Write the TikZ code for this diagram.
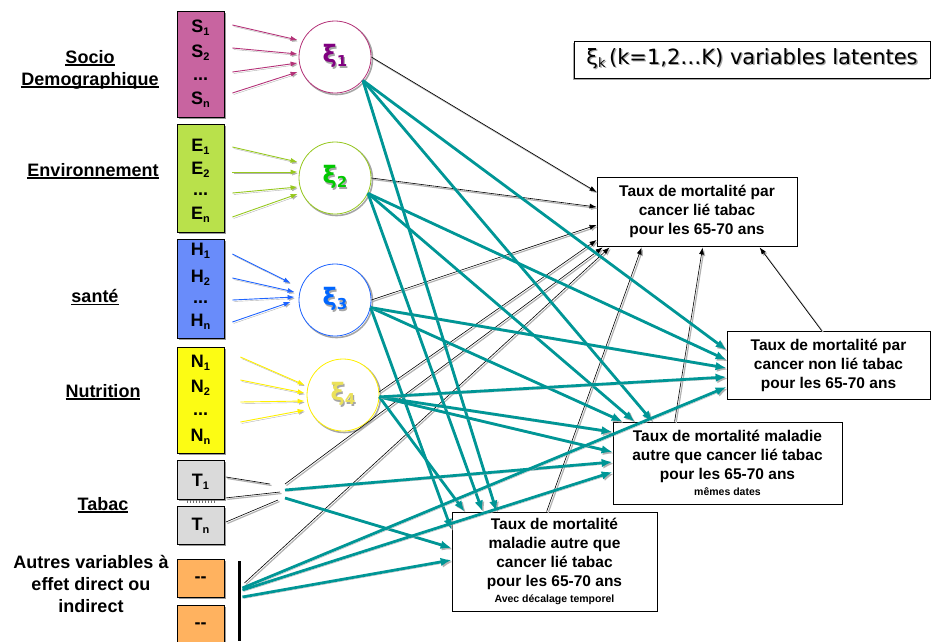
\documentclass[tikz,border=0pt]{standalone}
\usepackage{fontspec}
\setmainfont{Liberation Sans}
\newfontfamily\dejavu{DejaVu Sans}
\usetikzlibrary{arrows.meta,calc}
\definecolor{tealc}{RGB}{0,150,150}
\definecolor{scol}{RGB}{200,100,160}
\definecolor{ecol}{RGB}{185,225,75}
\definecolor{hcol}{RGB}{105,140,250}
\definecolor{ncol}{RGB}{252,252,20}
\definecolor{tcol}{RGB}{218,218,218}
\definecolor{ocol}{RGB}{255,178,95}
\definecolor{sline}{RGB}{180,50,120}
\definecolor{eline}{RGB}{150,200,30}
\definecolor{hline}{RGB}{30,100,255}
\definecolor{nline}{RGB}{255,240,0}
\definecolor{xiA}{RGB}{128,0,128}
\definecolor{xiB}{RGB}{0,200,0}
\definecolor{xiC}{RGB}{0,102,255}
\definecolor{xiD}{RGB}{235,225,90}
\newcommand\sub[1]{\raisebox{-3pt}{\fontsize{11}{11}\selectfont #1}}
\newcommand\bsub[1]{\raisebox{-4pt}{\fontsize{15}{15}\selectfont #1}}
\newcommand\shtext[2]{\makebox[0pt][l]{\hspace{1.3pt}\raisebox{-1.3pt}{\textcolor{black!35}{#2}}}\textcolor{#1}{#2}}
\newcommand\undl[1]{\setbox0\hbox{#1}\rlap{\rule[-2.6pt]{\wd0}{1.4pt}}\box0}
\begin{document}
\begin{tikzpicture}[x=1pt,y=-1pt,
  varbox/.style={draw=black, line width=0.8pt, minimum width=47, inner sep=0, preaction={fill=black!40, transform canvas={shift={(2pt,-2pt)}}}},
  vtxt/.style={font=\fontsize{18}{18}\selectfont\bfseries, inner sep=0},
  grp/.style={font=\fontsize{18}{22}\selectfont\bfseries, align=center, inner sep=0},
  latent/.style={circle, draw=#1, fill=white, minimum size=72, inner sep=0, line width=0.8pt, preaction={draw=black!35, line width=1.6pt, transform canvas={shift={(1.5pt,-1.5pt)}}}, font=\dejavu\bfseries\fontsize{24}{24}\selectfont},
  target/.style={draw=black, line width=0.8pt, fill=white, align=center, inner sep=0, font=\fontsize{15.5}{19}\selectfont\bfseries},
  inarr/.style={line width=0.9pt, -{Latex[length=7pt,width=5pt]}, preaction={draw=black!30, -{Latex[length=7pt,width=5pt]}, transform canvas={shift={(1.2pt,-1.5pt)}}}},
  blkarr/.style={line width=0.6pt, draw=black, -{Latex[length=7pt,width=5pt]}, preaction={draw=black!30, line width=1.2pt, -{Latex[length=7pt,width=5pt]}, transform canvas={shift={(1.5pt,-1.5pt)}}}},
  blkline/.style={line width=0.6pt, draw=black, preaction={draw=black!30, line width=1.2pt, transform canvas={shift={(1.5pt,-1.5pt)}}}},
  tealarr/.style={draw=tealc, line width=2.8pt, -{Latex[length=11pt,width=8.5pt]}, preaction={draw=black!30, -{Latex[length=11pt,width=8.5pt]}, transform canvas={shift={(1.5pt,-1.5pt)}}}}
]
\useasboundingbox (0,0) rectangle (932,641);

% group labels
\node[grp] (lsocio) at (90,69.5) {\undl{Socio}\\\undl{Demographique}};
\node[grp] (lenv) at (93,171) {\undl{Environnement}};
\node[grp] (lsante) at (95,297) {\undl{santé}};
\node[grp] (lnut) at (103,392) {\undl{Nutrition}};
\node[grp] (ltab) at (103,505) {\undl{Tabac}};
\node[grp] (lautre) at (91,584) {Autres variables à\\effet direct ou\\indirect};

% variable boxes
\node[varbox, fill=scol, minimum height=106] (sbox) at (200.5,64) {};
\node[vtxt] (s1) at (200.5,28) {S\sub{1}};
\node[vtxt] (s2) at (200.5,53) {S\sub{2}};
\node[vtxt] (s3) at (200.5,79) {...};
\node[vtxt] (sn) at (200.5,100) {S\sub{n}};

\node[varbox, fill=ecol, minimum height=108] (ebox) at (200.5,178) {};
\node[vtxt] (e1) at (200.5,147) {E\sub{1}};
\node[vtxt] (e2) at (200.5,170) {E\sub{2}};
\node[vtxt] (e3) at (200.5,194) {...};
\node[vtxt] (en) at (200.5,215) {E\sub{n}};

\node[varbox, fill=hcol, minimum height=99] (hbox) at (200.5,288.5) {};
\node[vtxt] (h1) at (200.5,251) {H\sub{1}};
\node[vtxt] (h2) at (200.5,278) {H\sub{2}};
\node[vtxt] (h3) at (200.5,302) {...};
\node[vtxt] (hn) at (200.5,322) {H\sub{n}};

\node[varbox, fill=ncol, minimum height=106] (nbox) at (200.5,400) {};
\node[vtxt] (n1) at (200.5,363) {N\sub{1}};
\node[vtxt] (n2) at (200.5,388) {N\sub{2}};
\node[vtxt] (n3) at (200.5,414) {...};
\node[vtxt] (nn) at (200.5,437) {N\sub{n}};

\node[varbox, fill=tcol, minimum height=39] (t1box) at (200.5,479.5) {};
\node[vtxt] (t1) at (200.5,482) {T\sub{1}};
\node[varbox, fill=tcol, minimum height=38] (tnbox) at (200.5,525) {};
\node[vtxt] (tn) at (200.5,526) {T\sub{n}};
\draw[line width=3pt, black!55, dash pattern=on 1pt off 2pt] ($(t1box.south west)+(10,2.5)$) coordinate (dA) -- ($(t1box.south east)+(-10,2.5)$) coordinate (dB);

\node[varbox, fill=ocol, minimum height=38] (o1box) at (200.5,578) {};
\node[vtxt] (o1) at (200.5,580) {-{}-};
\node[varbox, fill=ocol, minimum height=44] (o2box) at (200.5,627) {};
\node[vtxt] (o2) at (200.5,626) {-{}-};

\node[fill=black, minimum width=3.5, minimum height=80, inner sep=0] (bar) at (239.5,601) {};
\coordinate (tj) at (285,490);

% latent variables
\node[latent=sline] (xi1) at (335,57) {\shtext{xiA}{ξ\bsub{1}}};
\node[latent=eline] (xi2) at (335,178) {\shtext{xiB}{ξ\bsub{2}}};
\node[latent=hline] (xi3) at (335,300) {\shtext{xiC}{ξ\bsub{3}}};
\node[latent=nline] (xi4) at (343,395) {\shtext{xiD}{ξ\bsub{4}}};

% legend
\node[draw=black, line width=0.8pt, fill=white, minimum width=356, minimum height=37, inner sep=0,
  preaction={fill=black!35, transform canvas={shift={(-1.5pt,-2pt)}}},
  font=\dejavu\fontsize{21}{21}\selectfont] (leg) at (752,59.5)
  {\shtext{black}{ξ\raisebox{-3pt}{\fontsize{13}{13}\selectfont k}\,(k=1,2…K) variables latentes}};

% targets
\node[target, minimum width=200, minimum height=69] (y1) at (697,211.5)
  {Taux de mortalité par\\cancer lié tabac\\pour les 65-70 ans};
\node[target, minimum width=203, minimum height=68] (y2) at (828.5,365)
  {Taux de mortalité par\\cancer non lié tabac\\pour les 65-70 ans};
\node[target, minimum width=229, minimum height=82] (y3) at (727.5,463)
  {Taux de mortalité maladie\\autre que cancer lié tabac\\pour les 65-70 ans\\[-3pt]{\fontsize{10.5}{12}\selectfont mêmes dates}};
\node[target, minimum width=205, minimum height=99] (y4) at (554.5,561.5)
  {Taux de mortalité\\maladie autre que\\cancer lié tabac\\pour les 65-70 ans\\[-3pt]{\fontsize{10.5}{12}\selectfont Avec décalage temporel}};

% input arrows
\draw[inarr, draw=sline] ($(sbox.east)+(8,-39)$) -- ($(xi1.west)+(-1,-17)$);
\draw[inarr, draw=sline] ($(sbox.east)+(8,-16)$) -- ($(xi1.west)+(-1,-3)$);
\draw[inarr, draw=sline] ($(sbox.east)+(8,8)$) -- ($(xi1.west)+(-1,6)$);
\draw[inarr, draw=sline] ($(sbox.east)+(8,29)$) -- ($(xi1.west)+(-1,15)$);

\draw[inarr, draw=eline] ($(ebox.east)+(8,-31)$) -- ($(xi2.west)+(-1,-16)$);
\draw[inarr, draw=eline] ($(ebox.east)+(8,-6)$) -- ($(xi2.west)+(-1,-6)$);
\draw[inarr, draw=eline] ($(ebox.east)+(8,15)$) -- ($(xi2.west)+(-1,9)$);
\draw[inarr, draw=eline] ($(ebox.east)+(8,39)$) -- ($(xi2.west)+(-1,16)$);

\draw[inarr, draw=hline] ($(hbox.east)+(8,-34.5)$) -- ($(xi3.west)+(-8,-17)$);
\draw[inarr, draw=hline] ($(hbox.east)+(8,-10.5)$) -- ($(xi3.west)+(-4,-8)$);
\draw[inarr, draw=hline] ($(hbox.east)+(8,11.5)$) -- ($(xi3.west)+(-4,-3)$);
\draw[inarr, draw=hline] ($(hbox.east)+(8,33.5)$) -- ($(xi3.west)+(-8,2)$);

\draw[inarr, draw=nline] ($(nbox.east)+(16,-43)$) -- ($(xi4.west)+(-2,-10)$);
\draw[inarr, draw=nline] ($(nbox.east)+(16,-20)$) -- ($(xi4.west)+(-2,-2)$);
\draw[inarr, draw=nline] ($(nbox.east)+(16,2)$) -- ($(xi4.west)+(-2,6)$);
\draw[inarr, draw=nline] ($(nbox.east)+(16,22)$) -- ($(xi4.west)+(-2,15)$);

% tabac lines to junction
\draw[blkline] ($(t1box.east)+(1.5,-2.5)$) -- ($(tj)+(-15,-6)$);
\draw[blkline] ($(t1box.south east)+(1.5,-1.5)$) -- ($(tj)+(-5,2)$);
\draw[blkline] ($(tnbox.east)+(1.5,-3)$) -- ($(tj)+(-7,10)$);

% black arrows to y1
\draw[blkarr] (xi1.east) -- ($(y1.west)+(0,-19.5)$);
\draw[blkarr] (xi2.east) -- ($(y1.west)+(0,-4.5)$);
\draw[blkarr] (xi3.east) -- ($(y1.west)+(0,13.5)$);
\draw[blkarr] (xi4.5) -- ($(y1.west)+(0,28.5)$);
\draw[blkarr] ($(tj)+(0,-6)$) -- ($(y1.south west)+(6,1)$);
\draw[blkarr] ($(bar.east)+(3,-18)$) -- ($(y1.south west)+(13,1)$);
\draw[blkarr] ($(y4.north west)+(95,0)$) -- ($(y1.south west)+(45,1)$);
\draw[blkarr] ($(y3.north west)+(62,0)$) -- ($(y1.south west)+(106,1)$);
\draw[blkarr] ($(y2.north west)+(95,0)$) -- ($(y1.south west)+(163,1)$);

% teal arrows
\draw[tealarr] (xi1.-40) -- ($(y4.north west)+(45,0)$);
\draw[tealarr] (xi1.-40) -- ($(y3.north west)+(40,0)$);
\draw[tealarr] (xi1.-40) -- ($(y2.west)+(0,-15)$);
\draw[tealarr] (xi2.-25) -- ($(y4.north west)+(31,0)$);
\draw[tealarr] (xi2.-25) -- ($(y3.north west)+(22,0)$);
\draw[tealarr] (xi2.-25) -- ($(y2.west)+(0,-5)$);
\draw[tealarr] (xi3.-12) -- ($(y4.west)+(0,-31.5)$);
\draw[tealarr] (xi3.-12) -- ($(y3.north west)+(10,0)$);
\draw[tealarr] (xi3.-12) -- ($(y2.west)+(0,3)$);
\draw[tealarr] (xi4.-3) -- ($(y4.north west)+(13,0)$);
\draw[tealarr] (xi4.-3) -- ($(y3.west)+(0,-31)$);
\draw[tealarr] (xi4.-3) -- ($(y3.west)+(0,-11)$);
\draw[tealarr] (xi4.-3) -- ($(y2.west)+(0,12)$);
\draw[tealarr] (tj) -- ($(y3.west)+(0,-1)$);
\draw[tealarr] ($(tj)+(0,8)$) -- ($(y4.west)+(0,-13.5)$);
\draw[tealarr] ($(bar.east)+(1,-13)$) -- ($(y2.west)+(0,22)$);
\draw[tealarr] ($(bar.east)+(1,-11)$) -- ($(y3.west)+(0,9)$);
\draw[tealarr] ($(bar.east)+(1,-4)$) -- ($(y4.west)+(0,-1.5)$);
\end{tikzpicture}
\end{document}
